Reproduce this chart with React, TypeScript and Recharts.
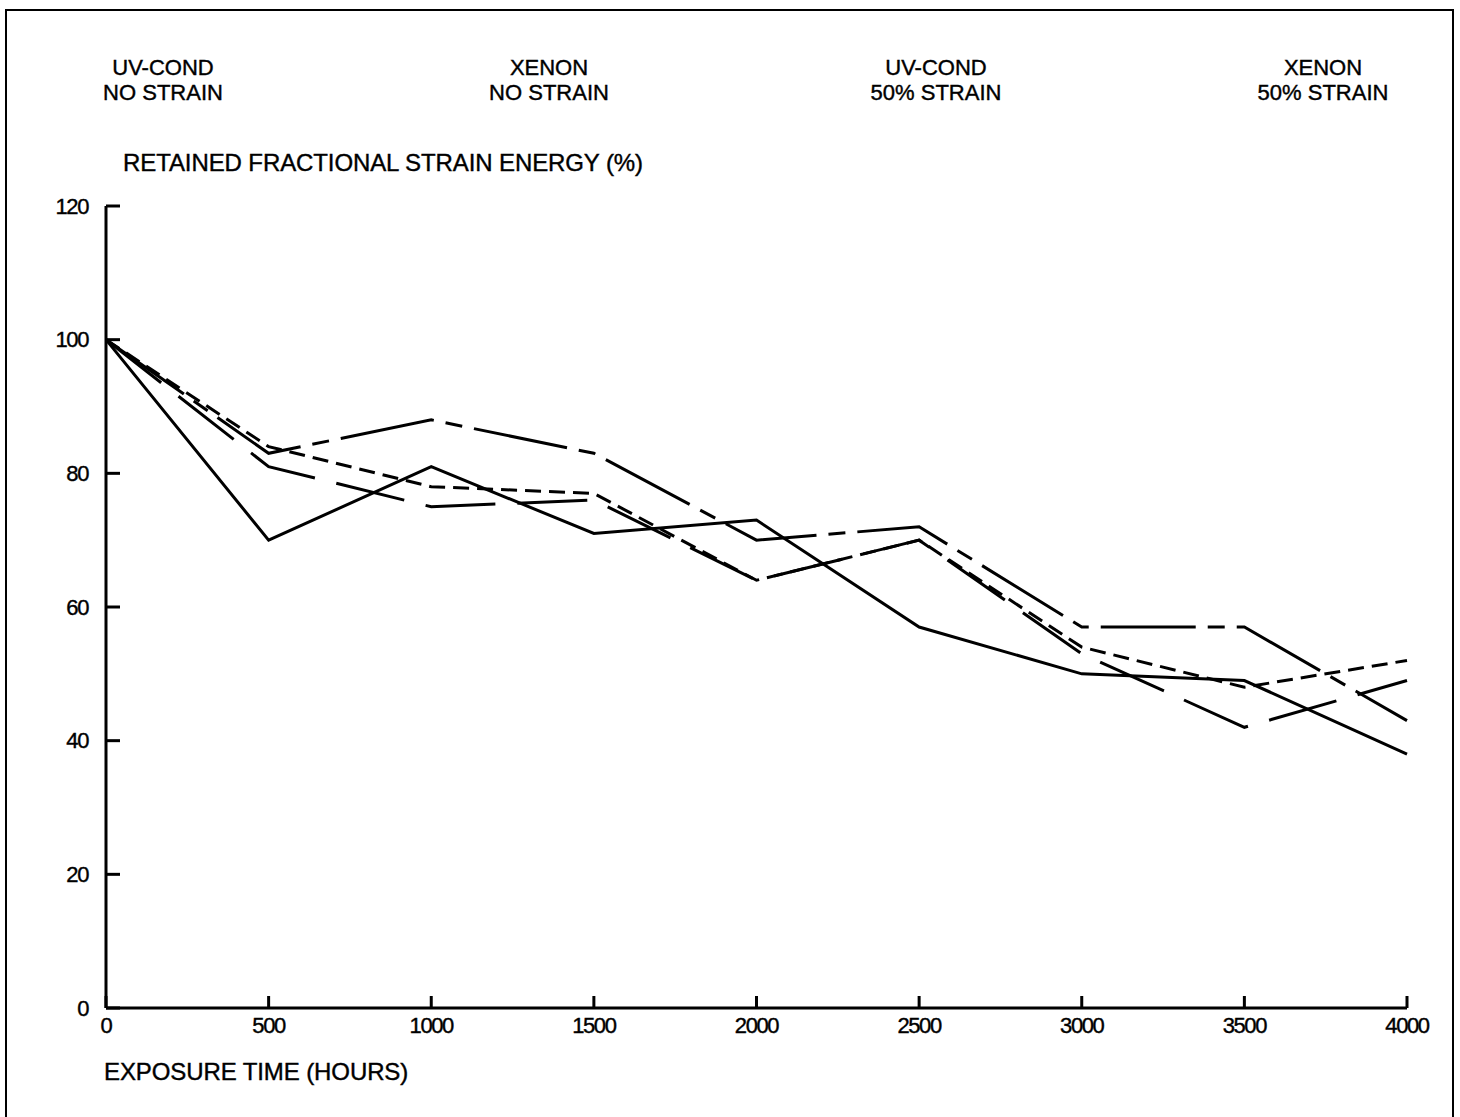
import React from "react";
import { LineChart, Line, XAxis, YAxis } from "recharts";

// exposure time (hours)
const hours = [0, 500, 1000, 1500, 2000, 2500, 3000, 3500, 4000];

// retained fractional strain energy (%)
const solidSeries = [100, 70, 81, 71, 73, 57, 50, 49, 38];
const longShortSeries = [100, 83, 88, 83, 70, 72, 57, 57, 43];
const shortDashSeries = [100, 84, 78, 77, 64, 70, 54, 48, 52];
const longDashSeries = [100, 81, 75, 76, 64, 70, 53, 42, 49];

const xTicks = [0, 500, 1000, 1500, 2000, 2500, 3000, 3500, 4000];
const yTicks = [0, 20, 40, 60, 80, 100, 120];

const headers = [
  { top: "UV-COND", bottom: "NO STRAIN", cx: 163 },
  { top: "XENON", bottom: "NO STRAIN", cx: 549 },
  { top: "UV-COND", bottom: "50% STRAIN", cx: 936 },
  { top: "XENON", bottom: "50% STRAIN", cx: 1323 },
];

const data = hours.map((h, i) => ({
  h,
  a: solidSeries[i],
  b: longShortSeries[i],
  c: shortDashSeries[i],
  d: longDashSeries[i],
}));

const font = "'Liberation Sans', Arial, Helvetica, sans-serif";

const textStyle: React.CSSProperties = {
  position: "absolute",
  fontFamily: font,
  fontSize: 24,
  color: "#000",
  letterSpacing: -0.1,
  lineHeight: "26px",
  whiteSpace: "nowrap",
  WebkitTextStroke: "0.4px #000",
};

const tickStyle = {
  fill: "#000",
  fontSize: 22,
  fontFamily: font,
  letterSpacing: -1.4,
  stroke: "#000",
  strokeWidth: 0.4,
};

export default function App() {
  return (
    <div
      style={{
        position: "absolute",
        left: 0,
        top: 0,
        width: 1460,
        height: 1117,
        background: "#fff",
        overflow: "hidden",
      }}
    >
      <div
        style={{
          position: "absolute",
          left: 5,
          top: 9,
          width: 1449,
          height: 1200,
          border: "2px solid #000",
          boxSizing: "border-box",
        }}
      />
      {headers.map((hd, i) => (
        <div
          key={i}
          style={{
            ...textStyle,
            fontSize: 22,
            letterSpacing: 0,
            lineHeight: "25px",
            left: hd.cx - 100,
            width: 200,
            top: 55,
            textAlign: "center",
          }}
        >
          {hd.top}
          <br />
          {hd.bottom}
        </div>
      ))}
      <div style={{ ...textStyle, left: 123, top: 150 }}>
        RETAINED FRACTIONAL STRAIN ENERGY (%)
      </div>
      <div style={{ ...textStyle, left: 104, top: 1059 }}>
        EXPOSURE TIME (HOURS)
      </div>
      <div style={{ position: "absolute", left: 0, top: 0 }}>
        <LineChart
          width={1460}
          height={1117}
          data={data}
          margin={{ top: 206, right: 53, bottom: 79, left: 46 }}
        >
          <XAxis
            dataKey="h"
            type="number"
            domain={[0, 4000]}
            ticks={xTicks}
            interval={0}
            height={30}
            tickSize={-12}
            tickMargin={21}
            axisLine={{ stroke: "#000", strokeWidth: 3 }}
            tickLine={{ stroke: "#000", strokeWidth: 3 }}
            tick={tickStyle}
          />
          <YAxis
            type="number"
            domain={[0, 120]}
            ticks={yTicks}
            interval={0}
            width={60}
            tickSize={-14}
            tickMargin={32}
            axisLine={{ stroke: "#000", strokeWidth: 3 }}
            tickLine={{ stroke: "#000", strokeWidth: 3 }}
            tick={tickStyle}
          />
          <Line
            dataKey="a"
            stroke="#000"
            strokeWidth={3}
            dot={false}
            type="linear"
            isAnimationActive={false}
          />
          <Line
            dataKey="b"
            stroke="#000"
            strokeWidth={3}
            strokeDasharray="95 12 17 12"
            dot={false}
            type="linear"
            isAnimationActive={false}
          />
          <Line
            dataKey="c"
            stroke="#000"
            strokeWidth={3}
            strokeDasharray="16 8"
            dot={false}
            type="linear"
            isAnimationActive={false}
          />
          <Line
            dataKey="d"
            stroke="#000"
            strokeWidth={3}
            strokeDasharray="70 22"
            dot={false}
            type="linear"
            isAnimationActive={false}
          />
        </LineChart>
      </div>
    </div>
  );
}
